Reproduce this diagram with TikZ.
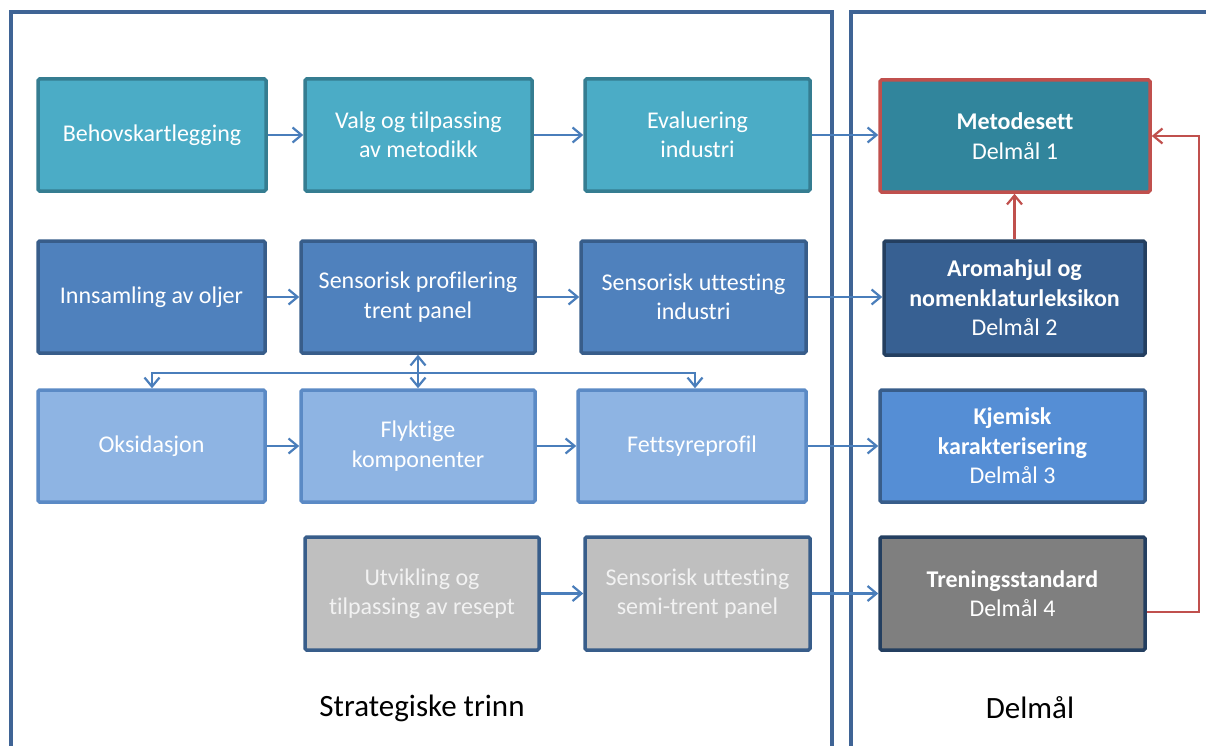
\documentclass[tikz,border=0pt]{standalone}
\usepackage{fontspec}
\setmainfont{Carlito}[Ligatures={CommonOff,ContextualOff}]
\usetikzlibrary{arrows.meta,calc}
\definecolor{panel}{HTML}{3F6495}
\definecolor{arrblue}{HTML}{4A7EBB}
\definecolor{redc}{HTML}{C0504D}
\definecolor{tealf}{HTML}{4BACC6}
\definecolor{tealb}{HTML}{357D91}
\definecolor{tealdf}{HTML}{31859C}
\definecolor{bluef}{HTML}{4F81BD}
\definecolor{blueb}{HTML}{385D8A}
\definecolor{navyf}{HTML}{376092}
\definecolor{navyb}{HTML}{243F60}
\definecolor{lightf}{HTML}{8EB4E3}
\definecolor{lightb}{HTML}{5B8AC5}
\definecolor{midf}{HTML}{558ED5}
\definecolor{greyf}{HTML}{BFBFBF}
\definecolor{dgreyf}{HTML}{7F7F7F}
\tikzset{
  box/.style={draw, line width=3.5pt, rounded corners=1.5pt, inner sep=0pt, align=center,
    text=white, font=\fontsize{24}{29.5}\selectfont, minimum height=112pt},
  rowa/.style={box, fill=tealf, draw=tealb},
  rowb/.style={box, fill=bluef, draw=blueb},
  rowc/.style={box, fill=lightf, draw=lightb},
  rowd/.style={box, fill=greyf, draw=blueb, text=white!95!black},
  arr/.style={draw=arrblue, line width=2.2pt, -{Straight Barb[length=9pt,width=15pt,line width=2.2pt]}},
  darr/.style={draw=arrblue, line width=2.2pt, {Straight Barb[length=9pt,width=15pt,line width=2.2pt]}-{Straight Barb[length=9pt,width=15pt,line width=2.2pt]}},
  rarr/.style={draw=redc, line width=2.2pt, -{Straight Barb[length=9pt,width=15pt,line width=2.2pt]}},
  paneline/.style={draw=panel, line width=3.2pt},
  titletext/.style={font=\fontsize{31}{36}\selectfont, text=black}
}
\begin{document}
\begin{tikzpicture}[x=1pt,y=-1pt]
\useasboundingbox (0,0) rectangle (1206,746);
% panels
\draw[paneline] (11,746) -- (11,12) -- (832,12) -- (832,746);
\draw[paneline] (851,746) -- (851,12) -- (1206,12);
% row 1
\node[rowa, minimum width=228pt] (A1) at (152,135) {Behovskartlegging};
\node[rowa, minimum width=227pt] (A2) at (418.5,135) {Valg og tilpassing\\av metodikk};
\node[rowa, minimum width=225pt] (A3) at (697.5,135) {Evaluering\\industri};
\node[box, fill=tealdf, draw=redc, minimum width=270pt] (M1) at (1015,136) {\textbf{Metodesett}\\Delmål 1};
% row 2
\node[rowb, minimum width=227pt] (B1) at (151.5,297) {Innsamling av oljer};
\node[rowb, minimum width=234pt] (B2) at (418,297) {Sensorisk profilering\\trent panel};
\node[rowb, minimum width=225pt] (B3) at (693.5,297) {Sensorisk uttesting\\industri};
\node[box, fill=navyf, draw=navyb, minimum width=261pt, minimum height=114pt] (M2) at (1014.5,298) {\textbf{Aromahjul og}\\\textbf{nomenklaturleksikon}\\Delmål 2};
% row 3
\node[rowc, minimum width=227pt] (C1) at (151.5,446) {Oksidasjon};
\node[rowc, minimum width=234pt] (C2) at (418,446) {Flyktige\\komponenter};
\node[rowc, minimum width=228pt] (C3) at (692,446) {Fettsyreprofil};
\node[box, fill=midf, draw=blueb, minimum width=265pt] (M3) at (1012.5,446) {\textbf{Kjemisk}\\\textbf{karakterisering}\\Delmål 3};
% row 4
\node[rowd, minimum width=234pt, minimum height=113pt] (D1) at (422,593.5) {Utvikling og\\tilpassing av resept};
\node[rowd, minimum width=225pt, minimum height=113pt] (D2) at (697.5,593.5) {Sensorisk uttesting\\semi-trent panel};
\node[box, fill=dgreyf, draw=navyb, minimum width=265pt, minimum height=113pt] (M4) at (1012.5,593.5) {\textbf{Treningsstandard}\\Delmål 4};
% titles
\node[titletext] (T1) at (422,708) {Strategiske trinn};
\node[titletext] (T2) at (1030,708) {Delmål};
% arrows row 1
\draw[arr] (A1.east) -- (A2.west);
\draw[arr] (A2.east) -- (A3.west);
\draw[arr] (A3.east) -- (A3.east -| M1.west);
% row 2
\draw[arr] (B1.east) -- (B2.west);
\draw[arr] (B2.east) -- (B3.west);
\draw[arr] (B3.east) -- (B3.east -| M2.west);
% row 3
\draw[arr] (C1.east) -- (C2.west);
\draw[arr] (C2.east) -- (C3.west);
\draw[arr] (C3.east) -- (C3.east -| M3.west);
% row 4
\draw[arr] (D1.east) -- (D2.west);
\draw[arr] (D2.east) -- (D2.east -| M4.west);
% vertical links
\draw[darr] (B2.south) -- (C2.north);
\coordinate (h1) at (152,373);
\coordinate (h2) at (695,373);
\draw[darr] (h1 |- C1.north) -- (h1) -- (h2) -- (h2 |- C3.north);
% red arrows
\draw[rarr] (M2.north) -- (M2.north |- M1.south);
\coordinate (r1) at (1199,612);
\draw[rarr] (M4.east |- r1) -- (r1) |- (M1.east);
\end{tikzpicture}
\end{document}
